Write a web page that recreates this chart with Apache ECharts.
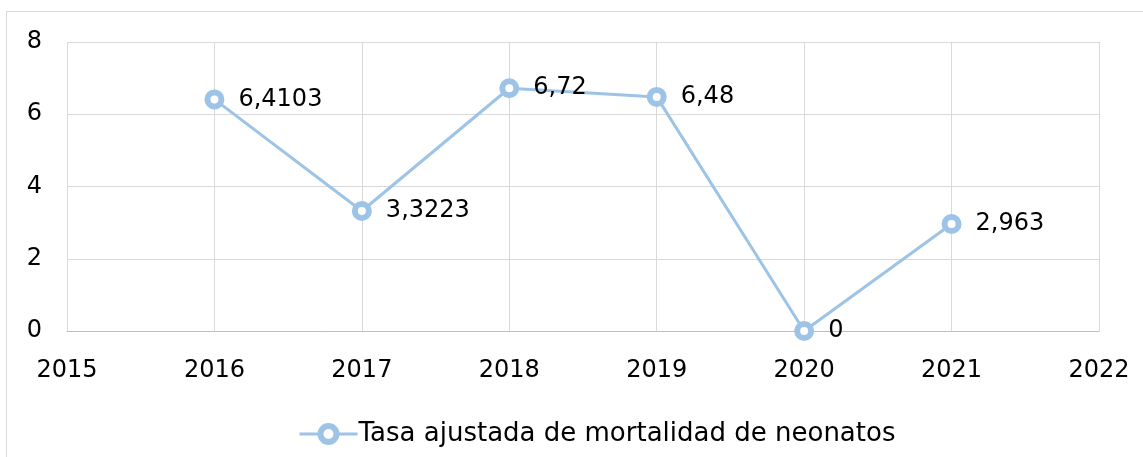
<!DOCTYPE html>
<html>
<head>
<meta charset="utf-8">
<script src="https://cdn.jsdelivr.net/npm/echarts@6/dist/echarts.min.js"></script>
<style>
  html, body { margin: 0; padding: 0; background: #fff; overflow: hidden; }
  #chart { width: 1143px; height: 457px; }
  .frame { position: absolute; left: 6px; top: 11px; width: 1160px; height: 480px; border: 1px solid #d9d9d9; box-sizing: border-box; pointer-events: none; }
</style>
</head>
<body>
<div id="chart"></div>
<div class="frame"></div>
<script>
const years = [2016, 2017, 2018, 2019, 2020, 2021]
const tasa = [6.4103, 3.3223, 6.72, 6.48, 0, 2.963]
const tasaLabels = ['6,4103', '3,3223', '6,72', '6,48', '0', '2,963']
const seriesName = 'Tasa ajustada de mortalidad de neonatos'

const lineColor = '#9dc3e6'
const font = '"DejaVu Sans", sans-serif'

const chart = echarts.init(document.getElementById('chart'))

chart.setOption({
  animation: false,
  textStyle: { fontFamily: font },
  grid: { left: 67, right: 44, top: 42, bottom: 126 },
  legend: {
    top: 416,
    left: 293,
    itemWidth: 58,
    itemHeight: 20,
    itemGap: 0,
    itemStyle: { color: '#fff', borderColor: lineColor, borderWidth: 6 },
    lineStyle: { color: lineColor, width: 3 },
    textStyle: { fontSize: 26, color: '#000', fontFamily: font, padding: [0, 0, 0, -4] },
    data: [seriesName]
  },
  xAxis: {
    type: 'value',
    min: 2015,
    max: 2022,
    interval: 1,
    axisLine: { show: true, lineStyle: { color: '#bfbfbf', width: 1 } },
    axisTick: { show: false },
    splitLine: { show: true, lineStyle: { color: '#d9d9d9' } },
    axisLabel: { color: '#000', fontSize: 24, margin: 28, formatter: v => String(v) }
  },
  yAxis: {
    type: 'value',
    min: 0,
    max: 8,
    interval: 2,
    axisLine: { show: false },
    axisTick: { show: false },
    splitLine: { show: true, lineStyle: { color: '#d9d9d9' } },
    axisLabel: { color: '#000', fontSize: 24, margin: 25 }
  },
  series: [{
    name: seriesName,
    type: 'line',
    data: years.map((y, i) => [y, tasa[i]]),
    symbol: 'circle',
    symbolSize: 14,
    showAllSymbol: true,
    lineStyle: { color: lineColor, width: 3 },
    itemStyle: { color: '#fff', borderColor: lineColor, borderWidth: 6 },
    label: {
      show: true,
      position: 'right',
      distance: 14,
      color: '#000',
      fontSize: 24,
      fontFamily: font,
      formatter: p => tasaLabels[p.dataIndex]
    },
    z: 3
  }]
})
</script>
</body>
</html>
